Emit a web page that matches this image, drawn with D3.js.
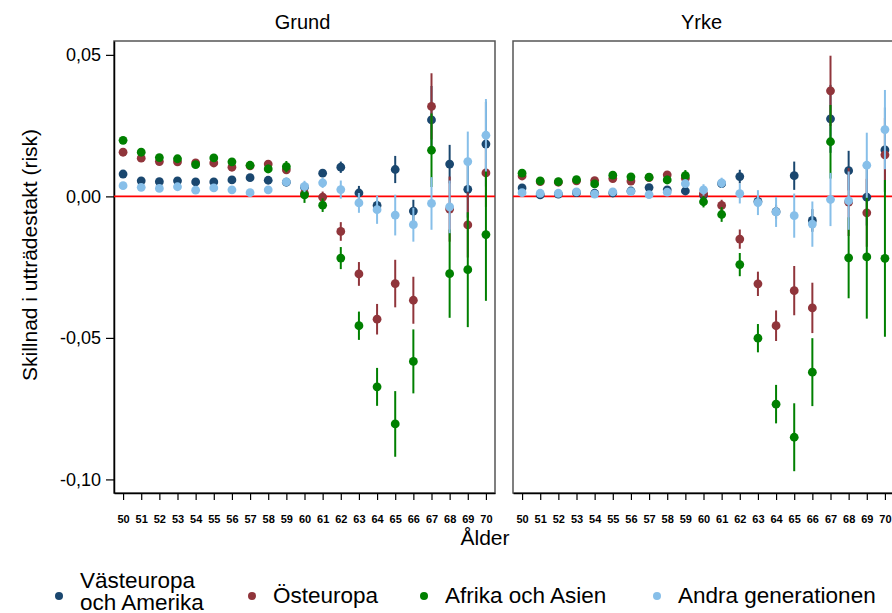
<!DOCTYPE html>
<html>
<head>
<meta charset="utf-8">
<script src="https://cdn.jsdelivr.net/npm/d3@7"></script>
<style>
  body { margin: 0; background: #fff; }
  svg { font-family: "Liberation Sans", Arial, sans-serif; }
</style>
</head>
<body>
<div id="graph"></div>
<script>
"use strict";

const ages = [50, 51, 52, 53, 54, 55, 56, 57, 58, 59, 60, 61, 62, 63, 64, 65, 66, 67, 68, 69, 70];
const yTicks = [0.05, 0, -0.05, -0.10];
const panelTitles = ["Grund", "Yrke"];
const seriesNames = ["Västeuropa\noch Amerika", "Östeuropa", "Afrika och Asien", "Andra generationen"];

// Grund: point estimates and half-widths of the confidence bars
const vastGrund = [0.0079, 0.0055, 0.0052, 0.0055, 0.0051, 0.0051, 0.0058, 0.0066, 0.0057, 0.0050, 0.0032, 0.0082, 0.0103, 0.0012, -0.0032, 0.0095, -0.0052, 0.0270, 0.0114, 0.0025, 0.0185];
const vastGrundCi = [0.001, 0.001, 0.001, 0.001, 0.001, 0.001, 0.001, 0.001, 0.001, 0.0012, 0.0012, 0.0014, 0.002, 0.0025, 0.0018, 0.0048, 0.004, 0.012, 0.0068, 0.01, 0.015];
const ostGrund = [0.0156, 0.0135, 0.0123, 0.0122, 0.0118, 0.0118, 0.0103, 0.0108, 0.0114, 0.0094, 0.0011, -0.0003, -0.0124, -0.0274, -0.0434, -0.0308, -0.0367, 0.0318, -0.0045, -0.0101, 0.0083];
const ostGrundCi = [0.0012, 0.0012, 0.0012, 0.0012, 0.0012, 0.0012, 0.0012, 0.0012, 0.0014, 0.0014, 0.0015, 0.002, 0.0033, 0.0042, 0.0054, 0.0084, 0.0083, 0.0117, 0.0115, 0.0115, 0.012];
const afrGrund = [0.0198, 0.0156, 0.0137, 0.0133, 0.0112, 0.0136, 0.0122, 0.0110, 0.0097, 0.0105, 0.0005, -0.0031, -0.0218, -0.0457, -0.0673, -0.0804, -0.0583, 0.0163, -0.0273, -0.0259, -0.0135];
const afrGrundCi = [0.0012, 0.0012, 0.0012, 0.0012, 0.0012, 0.0012, 0.0012, 0.0012, 0.0015, 0.002, 0.0028, 0.0024, 0.0039, 0.005, 0.0067, 0.0116, 0.0113, 0.013, 0.0156, 0.0203, 0.0234];
const andraGrund = [0.0038, 0.0032, 0.0028, 0.0034, 0.0022, 0.0030, 0.0023, 0.0013, 0.0023, 0.0051, 0.0035, 0.0048, 0.0024, -0.0023, -0.0047, -0.0066, -0.0100, -0.0025, -0.0037, 0.0123, 0.0216];
const andraGrundCi = [0.001, 0.001, 0.001, 0.001, 0.001, 0.001, 0.001, 0.001, 0.001, 0.0015, 0.002, 0.0018, 0.0032, 0.0035, 0.005, 0.0072, 0.006, 0.0093, 0.0093, 0.0106, 0.0128];

// Yrke
const vastYrke = [0.0030, 0.0005, 0.0008, 0.0013, 0.0011, 0.0012, 0.0019, 0.0031, 0.0023, 0.0019, 0.0004, 0.0045, 0.0070, -0.0018, -0.0054, 0.0073, -0.0085, 0.0274, 0.0091, -0.0003, 0.0164];
const vastYrkeCi = [0.001, 0.001, 0.001, 0.001, 0.001, 0.001, 0.001, 0.001, 0.001, 0.001, 0.0012, 0.0015, 0.0024, 0.002, 0.0025, 0.005, 0.004, 0.012, 0.007, 0.01, 0.015];
const ostYrke = [0.0072, 0.0052, 0.0050, 0.0055, 0.0056, 0.0063, 0.0054, 0.0066, 0.0076, 0.0064, 0.0010, -0.0032, -0.0151, -0.0309, -0.0457, -0.0333, -0.0394, 0.0373, -0.0020, -0.0058, 0.0147];
const ostYrkeCi = [0.0012, 0.0012, 0.0012, 0.0012, 0.0012, 0.0012, 0.0012, 0.0012, 0.0012, 0.0014, 0.0015, 0.002, 0.0034, 0.0043, 0.0054, 0.0087, 0.0089, 0.0124, 0.012, 0.012, 0.013];
const afrYrke = [0.0082, 0.0055, 0.0052, 0.0059, 0.0044, 0.0075, 0.0069, 0.0068, 0.0058, 0.0073, -0.0019, -0.0064, -0.0241, -0.0501, -0.0734, -0.0851, -0.0621, 0.0193, -0.0217, -0.0214, -0.0219];
const afrYrkeCi = [0.0012, 0.0012, 0.0012, 0.0012, 0.0012, 0.0012, 0.0012, 0.0012, 0.0015, 0.002, 0.002, 0.0026, 0.0041, 0.005, 0.0068, 0.012, 0.012, 0.013, 0.0143, 0.0218, 0.0277];
const andraYrke = [0.0013, 0.0011, 0.0011, 0.0016, 0.0008, 0.0016, 0.0017, 0.0006, 0.0015, 0.0045, 0.0023, 0.0048, 0.0010, -0.0022, -0.0055, -0.0068, -0.0098, -0.0011, -0.0015, 0.0110, 0.0236];
const andraYrkeCi = [0.001, 0.001, 0.001, 0.001, 0.001, 0.001, 0.001, 0.001, 0.001, 0.0015, 0.002, 0.0018, 0.0035, 0.0044, 0.0053, 0.0078, 0.008, 0.0094, 0.0103, 0.0115, 0.014];

const colors = ["#1a476f", "#90353b", "#008000", "#87bfe9"];

(function() {
    const width = 892, height = 613;
    const plotTop = 41, plotBottom = 493, panelW = 381;
    const panelLeft = [114, 513];

    const panels = [
        [[vastGrund, vastGrundCi], [ostGrund, ostGrundCi], [afrGrund, afrGrundCi], [andraGrund, andraGrundCi]],
        [[vastYrke, vastYrkeCi], [ostYrke, ostYrkeCi], [afrYrke, afrYrkeCi], [andraYrke, andraYrkeCi]]
    ];

    const svg = d3.select("#graph").append("svg")
        .attr("width", width)
        .attr("height", height);

    const y = d3.scaleLinear()
        .domain([-0.1048, 0.0549])
        .range([plotBottom, plotTop]);

    const fmt = v => d3.format(".2f")(v).replace(".", ",").replace("−", "-");

    panels.forEach((series, p) => {
        const x0 = panelLeft[p];
        const x = d3.scaleLinear()
            .domain([49.5, 70.5])
            .range([x0, x0 + panelW]);

        // frame
        svg.append("rect")
            .attr("x", x0).attr("y", plotTop)
            .attr("width", panelW).attr("height", plotBottom - plotTop)
            .attr("fill", "none").attr("stroke", "#555").attr("stroke-width", 1.5);

        svg.append("text")
            .attr("x", x0 + panelW / 2 - 2).attr("y", 29)
            .attr("text-anchor", "middle")
            .attr("font-size", 20)
            .text(panelTitles[p]);

        // x axis
        const xAxis = svg.append("g")
            .attr("transform", "translate(0," + plotBottom + ")")
            .call(d3.axisBottom(x).tickValues(ages).tickSize(7).tickPadding(15).tickSizeOuter(0));
        xAxis.select(".domain").attr("stroke", "#000").attr("stroke-width", 1.5);
        xAxis.selectAll(".tick line").attr("stroke", "#000").attr("stroke-width", 1.2);
        xAxis.selectAll(".tick text")
            .attr("font-size", 11).attr("font-weight", "bold")
            .attr("font-family", "Liberation Sans, Arial, sans-serif")
            .attr("fill", "#000");

        if (p === 0) {
            const yAxis = svg.append("g")
                .attr("transform", "translate(" + x0 + ",0)")
                .call(d3.axisLeft(y).tickValues(yTicks).tickFormat(fmt).tickSize(8).tickPadding(5).tickSizeOuter(0));
            yAxis.select(".domain").attr("stroke", "#000").attr("stroke-width", 1.5);
            yAxis.selectAll(".tick line").attr("stroke", "#000").attr("stroke-width", 1.2);
            yAxis.selectAll(".tick text")
                .attr("font-size", 18)
                .attr("font-family", "Liberation Sans, Arial, sans-serif")
                .attr("fill", "#000");
        }

        // zero line
        svg.append("line")
            .attr("x1", x0).attr("x2", x0 + panelW)
            .attr("y1", y(0)).attr("y2", y(0))
            .attr("stroke", "#ff0000").attr("stroke-width", 1.6);

        series.forEach((s, i) => {
            const est = s[0], ci = s[1];
            const g = svg.append("g");
            g.selectAll("line")
                .data(ages)
                .enter()
                .append("line")
                    .attr("x1", d => x(d)).attr("x2", d => x(d))
                    .attr("y1", (d, k) => y(est[k] + ci[k]))
                    .attr("y2", (d, k) => y(est[k] - ci[k]))
                    .attr("stroke", colors[i])
                    .attr("stroke-width", 2);
            g.selectAll("circle")
                .data(ages)
                .enter()
                .append("circle")
                    .attr("cx", d => x(d))
                    .attr("cy", (d, k) => y(est[k]))
                    .attr("r", 4.4)
                    .attr("fill", colors[i]);
        });
    });

    svg.append("text")
        .attr("x", 485).attr("y", 545)
        .attr("text-anchor", "middle")
        .attr("font-size", 21)
        .text("Ålder");

    svg.append("text")
        .attr("transform", "translate(37,255) rotate(-90)")
        .attr("text-anchor", "middle")
        .attr("font-size", 21)
        .text("Skillnad i utträdestakt (risk)");

    // legend
    const legendX = [59, 252, 424, 657];
    seriesNames.forEach((name, i) => {
        svg.append("circle")
            .attr("cx", legendX[i]).attr("cy", 596)
            .attr("r", 4)
            .attr("fill", colors[i]);
        const lines = name.split("\n");
        const t = svg.append("text")
            .attr("x", legendX[i] + 21)
            .attr("y", lines.length > 1 ? 588 : 603)
            .attr("font-size", 22.5);
        lines.forEach((ln, k) => {
            t.append("tspan")
                .attr("x", legendX[i] + 21)
                .attr("dy", k === 0 ? 0 : 22)
                .text(ln);
        });
    });
})();
</script>
</body>
</html>
